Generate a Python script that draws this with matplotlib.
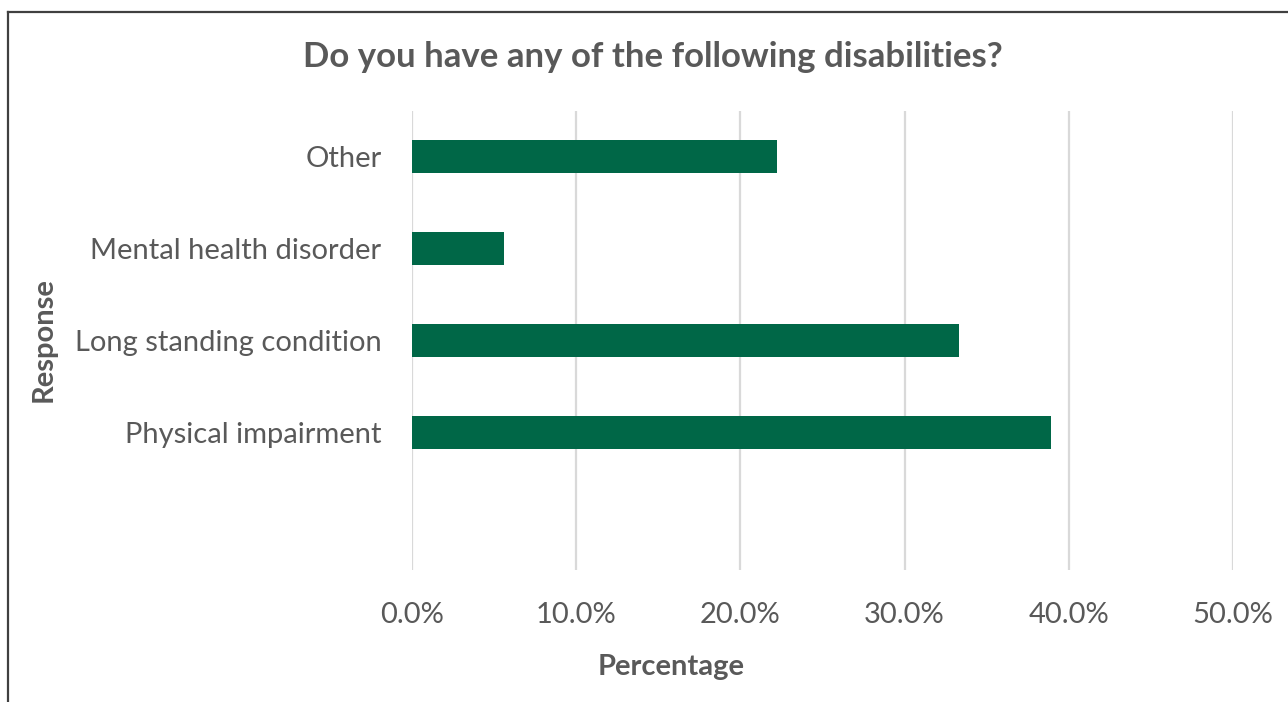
import matplotlib
matplotlib.use("Agg")
import matplotlib.pyplot as plt
from matplotlib.lines import Line2D
from matplotlib.ticker import FuncFormatter

categories = ["Physical impairment", "Long standing condition",
              "Mental health disorder", "Other"]
percentages = [38.9, 33.3, 5.6, 22.2]
x_ticks = [0, 10, 20, 30, 40, 50]

title = "Do you have any of the following disabilities?"
x_label = "Percentage"
y_label = "Response"

TEXT = "#595959"
BAR = "#006747"
GRID = "#d9d9d9"

plt.rcParams["font.family"] = ["Lato", "DejaVu Sans"]

W, H = 1288, 702
fig = plt.figure(figsize=(W / 100, H / 100), dpi=100)
fig.patch.set_facecolor("white")

ax = fig.add_axes([412 / W, 1 - 570 / H, (1233 - 412) / W, (570 - 111) / H])
pos = list(range(len(categories)))
ax.barh(pos, percentages, height=0.36, color=BAR, zorder=3)

ax.set_xlim(0, 50)
ax.set_ylim(-1.5, len(categories) - 0.5)
ax.set_xticks(x_ticks)
ax.xaxis.set_major_formatter(FuncFormatter(lambda v, _: f"{v:.1f}%"))
ax.set_yticks(pos)
ax.set_yticklabels(categories)
ax.grid(axis="x", color=GRID, linewidth=1.6, zorder=0)
for s in ax.spines.values():
    s.set_visible(False)
ax.tick_params(axis="both", length=0, colors=TEXT, labelsize=21)
ax.tick_params(axis="x", pad=23)
ax.tick_params(axis="y", pad=22)

fig.text(653 / W, 1 - 57 / H, title, ha="center", va="center",
         fontsize=25, fontweight="bold", color=TEXT)
fig.text(671 / W, 1 - 667 / H, x_label, ha="center", va="center",
         fontsize=21, fontweight="bold", color=TEXT)
fig.text(44 / W, 1 - 340 / H, y_label, ha="center", va="center",
         rotation=90, fontsize=21, fontweight="bold", color=TEXT)

# outer chart frame (top and left edges)
fig.add_artist(Line2D([8 / W, 1], [1 - 12 / H, 1 - 12 / H],
                      transform=fig.transFigure, color="#404040", linewidth=1.6))
fig.add_artist(Line2D([8 / W, 8 / W], [0, 1 - 12 / H],
                      transform=fig.transFigure, color="#404040", linewidth=1.6))

fig.savefig("out.png", dpi=100)
